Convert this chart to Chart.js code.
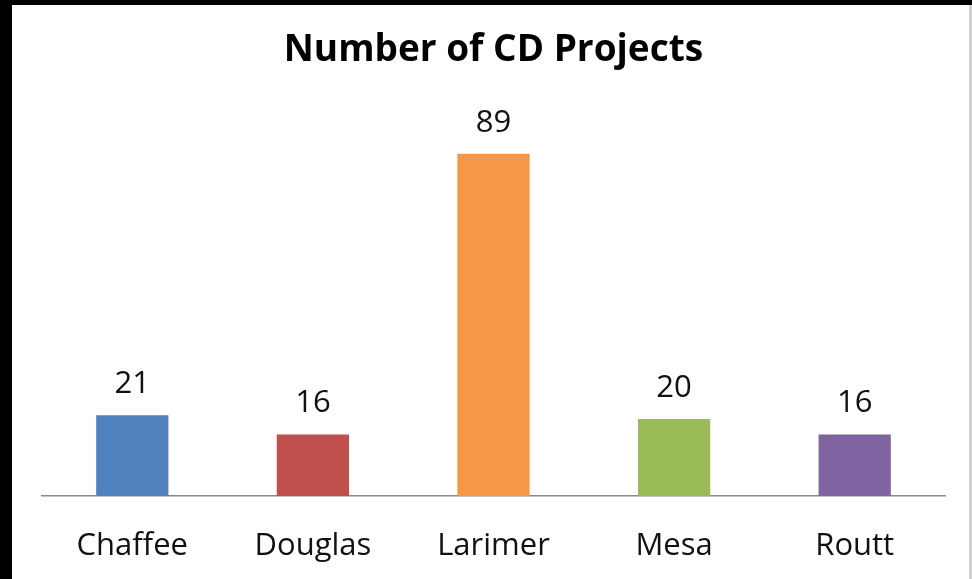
<!DOCTYPE html>
<html>
<head>
<meta charset="utf-8">
<script src="https://cdn.jsdelivr.net/npm/chart.js@4"></script>
<style>
  html, body { margin: 0; padding: 0; }
  body { width: 972px; height: 579px; background: #000; position: relative; overflow: hidden; }
  #frame { position: absolute; left: 12px; top: 5px; width: 957px; height: 574px; background: #fff; border-right: 3px solid #d0d0d0; overflow: hidden; }
  canvas { display: block; }
</style>
</head>
<body>
<div id="frame"><canvas id="c" width="957" height="580"></canvas></div>
<script>
// Counties and their project counts
const counties = ['Chaffee', 'Douglas', 'Larimer', 'Mesa', 'Routt'];
const projects = [21, 16, 89, 20, 16];
const barColors = ['#4F81BD', '#C0504D', '#F79646', '#9BBB59', '#8064A2'];
const chartTitle = 'Number of CD Projects';

const FONT = '"Open Sans", Lato, sans-serif';

// Writes each bar's value above it
const valueLabels = {
  id: 'valueLabels',
  afterDatasetsDraw(chart) {
    const ctx = chart.ctx;
    const meta = chart.getDatasetMeta(0);
    ctx.save();
    ctx.font = '31px ' + FONT;
    ctx.fillStyle = '#111';
    ctx.textAlign = 'center';
    ctx.textBaseline = 'alphabetic';
    meta.data.forEach((bar, i) => {
      ctx.fillText(String(chart.data.datasets[0].data[i]), bar.x, bar.y - 22);
    });
    ctx.restore();
  }
};

new Chart(document.getElementById('c'), {
  type: 'bar',
  data: {
    labels: counties,
    datasets: [{
      data: projects,
      backgroundColor: barColors,
      borderWidth: 0,
      barPercentage: 0.4,
      categoryPercentage: 1.0
    }]
  },
  options: {
    responsive: false,
    animation: false,
    layout: { padding: { left: 30, right: 24, top: 0, bottom: -12 } },
    plugins: {
      legend: { display: false },
      tooltip: { enabled: false },
      title: {
        display: true,
        text: chartTitle,
        color: '#000',
        font: { family: FONT, size: 37, weight: 'bold', lineHeight: 1.2 },
        padding: { top: 23, bottom: 39 }
      }
    },
    scales: {
      x: {
        grid: { display: false, drawTicks: false },
        border: { display: true, color: '#8a8a8a', width: 1.5 },
        ticks: { color: '#111', font: { family: FONT, size: 31, lineHeight: 1.0 }, padding: 35 }
      },
      y: {
        display: false,
        min: 0,
        max: 100
      }
    }
  },
  plugins: [valueLabels]
});
</script>
</body>
</html>
